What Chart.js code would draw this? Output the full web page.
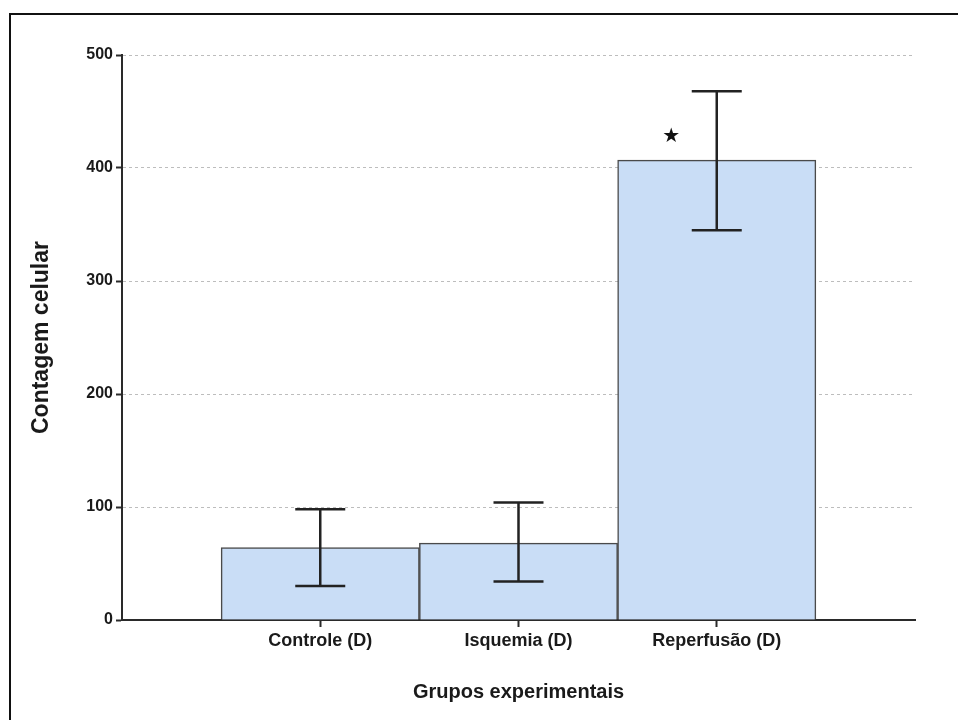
<!DOCTYPE html>
<html>
<head>
<meta charset="utf-8">
<script src="https://cdn.jsdelivr.net/npm/chart.js@4.4.1/dist/chart.umd.min.js"></script>
<style>
  body { margin: 0; background: #fff; overflow: hidden; }
  #wrap { position: relative; width: 958px; height: 720px; }
  #frame { position: absolute; left: 9px; top: 13px; width: 980px; height: 740px; border: 2.5px solid #111; box-sizing: border-box; }
  #chart { position: absolute; left: 0; top: 0; }
</style>
</head>
<body>
<div id="wrap">
  <div id="frame"></div>
  <canvas id="chart" width="958" height="720"></canvas>
</div>
<script>
// dados
const categories = ['Controle (D)', 'Isquemia (D)', 'Reperfusão (D)'];
const means = [64, 68, 407];
const errLower = [30, 34, 345];
const errUpper = [98, 104, 468];
const yTicks = [0, 100, 200, 300, 400, 500];
const marks = ['', '', '★'];
const markValues = [null, null, 428];

const axisColor = '#2a2a2a';
const font = 'Liberation Sans, Arial, sans-serif';

// barras de erro + marca de significância
const errorBars = {
  id: 'errorBars',
  afterDatasetsDraw(chart) {
    const ctx = chart.ctx;
    const xs = chart.scales.x, ys = chart.scales.y;
    ctx.save();
    ctx.strokeStyle = '#222';
    ctx.lineWidth = 2.5;
    categories.forEach((c, i) => {
      const x = xs.getPixelForValue(i + 1);
      const yLo = ys.getPixelForValue(errLower[i]);
      const yHi = ys.getPixelForValue(errUpper[i]);
      const cap = 25;
      ctx.beginPath();
      ctx.moveTo(x, yLo); ctx.lineTo(x, yHi);
      ctx.moveTo(x - cap, yLo); ctx.lineTo(x + cap, yLo);
      ctx.moveTo(x - cap, yHi); ctx.lineTo(x + cap, yHi);
      ctx.stroke();
      if (marks[i]) {
        ctx.fillStyle = '#111';
        ctx.font = '20px DejaVu Sans';
        ctx.textAlign = 'center';
        ctx.textBaseline = 'middle';
        ctx.fillText(marks[i], xs.getPixelForValue(i + 1 - 0.23), ys.getPixelForValue(markValues[i]));
      }
    });
    ctx.restore();
  }
};

new Chart(document.getElementById('chart'), {
  type: 'bar',
  data: {
    datasets: [{
      data: means.map((v, i) => ({ x: i + 1, y: v })),
      backgroundColor: '#c9ddf6',
      borderColor: '#4a4a4a',
      borderWidth: 1.5,
      barPercentage: 1,
      categoryPercentage: 1
    }]
  },
  options: {
    responsive: false,
    animation: false,
    events: [],
    layout: { padding: { left: 0, top: 55, right: 43, bottom: 0 } },
    plugins: { legend: { display: false }, tooltip: { enabled: false } },
    scales: {
      x: {
        type: 'linear',
        min: 0,
        max: 4,
        offset: false,
        afterBuildTicks: s => { s.ticks = categories.map((c, i) => ({ value: i + 1 })); },
        afterFit: s => { s.height = 100; },
        ticks: {
          callback: v => categories[v - 1],
          color: '#1a1a1a',
          font: { family: font, size: 18, weight: 'bold' },
          padding: 3,
          maxRotation: 0
        },
        grid: { offset: false, drawOnChartArea: false, drawTicks: true, tickLength: 7, tickColor: axisColor, tickWidth: 2 },
        border: { color: axisColor, width: 2 },
        title: {
          display: true,
          text: 'Grupos experimentais',
          color: '#1a1a1a',
          font: { family: font, size: 20, weight: 'bold' },
          padding: { top: 0, bottom: 16 }
        }
      },
      y: {
        min: 0,
        max: 500,
        afterBuildTicks: s => { s.ticks = yTicks.map(v => ({ value: v })); },
        afterFit: s => { s.width = 122; },
        ticks: {
          color: '#1a1a1a',
          font: { family: font, size: 16, weight: 'bold' },
          padding: 3
        },
        grid: { color: '#bdbdbd', lineWidth: 1, tickLength: 6, tickColor: axisColor, tickWidth: 2 },
        border: { color: axisColor, width: 2, dash: [3, 3] },
        title: {
          display: true,
          text: 'Contagem celular',
          color: '#1a1a1a',
          font: { family: font, size: 23, weight: 'bold' },
          padding: { top: 28, bottom: 0 }
        }
      }
    }
  },
  plugins: [errorBars]
});
</script>
</body>
</html>
